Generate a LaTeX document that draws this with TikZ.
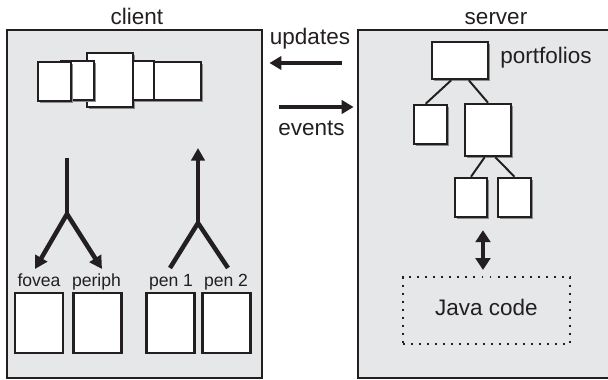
\documentclass[tikz,border=0pt]{standalone}
\usepackage{fontspec}
\setmainfont{Liberation Sans}
\usepackage{tikz}
\usetikzlibrary{arrows.meta, shadows}
\definecolor{inkdark}{HTML}{231F20}
\definecolor{panelgray}{HTML}{E6E7E8}
\definecolor{shadowgray}{HTML}{8C8C8E}

\begin{document}
\begin{tikzpicture}[x=0.025cm, y=-0.025cm, font=\fontsize{16}{19}\selectfont, text=inkdark,
  frame/.style={draw=inkdark, line width=2pt, fill=panelgray, inner sep=0pt},
  pane/.style={draw=inkdark, line width=1.8pt, fill=white, inner sep=0pt},
  cast/.style={drop shadow={shadow xshift=1.4pt, shadow yshift=-1.4pt, opacity=1, fill=shadowgray}},
  small/.style={font=\fontsize{12.5}{15}\selectfont, anchor=base},
  fork/.style={draw=inkdark, line width=3.2pt},
  flow/.style={draw=inkdark, line width=3pt, -{Triangle[length=8.5pt, width=9.5pt]}},
  link/.style={draw=inkdark, line width=1.4pt}]
  \useasboundingbox (0,0) rectangle (608,380);
  \clip (0,0) rectangle (608,380);

  % the two panels, server runs off the right edge
  \node[frame, minimum width=6.375cm, minimum height=8.7cm] (client) at (134.5,204) {};
  \node[frame, minimum width=6.55cm, minimum height=8.7cm] (server) at (489,204) {};
  \node[anchor=base] (clientlbl) at (137,25) {client};
  \node[anchor=base] (serverlbl) at (496,25) {server};

  % updates and events between the panels
  \node[anchor=base] (updlbl) at (310,45) {updates};
  \node[anchor=base] (evtlbl) at (311.5,136) {events};
  \draw[flow, shorten <=10.6pt, shorten >=4.3pt] (server.west |- 0,63) -- (client.east |- 0,63);
  \draw[flow, shorten <=11.3pt, shorten >=2.1pt] (client.east |- 0,107) -- (server.west |- 0,107);

  % client: overlapping views
  \node[pane, cast, minimum width=1.15cm, minimum height=1.35cm] (vmain) at (110,80) {};
  \node[pane, cast, minimum width=0.825cm, minimum height=0.975cm] (vleftb) at (77.5,80.5) {};
  \node[pane, cast, minimum width=0.825cm, minimum height=0.975cm] (vlefta) at (54.5,81.5) {};
  \node[pane, cast, minimum width=0.525cm, minimum height=0.975cm] (vrightb) at (143.5,80.5) {};
  \node[pane, cast, minimum width=1.175cm, minimum height=0.95cm] (vrighta) at (177.5,81) {};

  % client: output fork (fovea / periph)
  \coordinate (fovstem) at (67,158);
  \coordinate (fovsplit) at (67,214);
  \coordinate (fovtip) at (35,269);
  \coordinate (pertip) at (102,269);
  \draw[fork] (fovstem) -- (fovsplit);
  \draw[fork, {Triangle[length=9pt, width=9.5pt]}-{Triangle[length=9pt, width=9.5pt]}] (fovtip) -- (fovsplit) -- (pertip);

  % client: input fork (pen 1 / pen 2)
  \coordinate (pentip) at (198,148);
  \coordinate (pensplit) at (198,223);
  \coordinate (penfoot1) at (170,268);
  \coordinate (penfoot2) at (228,268);
  \draw[fork] (penfoot1) -- (pensplit) -- (penfoot2);
  \draw[fork, -{Triangle[length=9pt, width=9.5pt]}] (pensplit) -- (pentip);

  % client: device buffers
  \node[small] (fovlbl) at (39,287) {fovea};
  \node[small] (perlbl) at (96.5,287) {periph};
  \node[small] (pen1lbl) at (171,287) {pen 1};
  \node[small] (pen2lbl) at (226,287) {pen 2};
  \node[pane, minimum width=1.2cm, minimum height=1.5cm] (fovbuf) at (39,323) {};
  \node[pane, minimum width=1.2cm, minimum height=1.5cm] (perbuf) at (97.5,323) {};
  \node[pane, minimum width=1.2cm, minimum height=1.5cm] (pen1buf) at (170.5,323) {};
  \node[pane, minimum width=1.2cm, minimum height=1.5cm] (pen2buf) at (226.5,323) {};

  % server: portfolio tree
  \node[pane, cast, minimum width=1.4cm, minimum height=0.925cm] (root) at (460,60.5) {};
  \node[anchor=base] (portlbl) at (546,64) {portfolios};
  \node[pane, cast, minimum width=0.825cm, minimum height=0.975cm] (lchild) at (430.5,124.5) {};
  \node[pane, cast, minimum width=1.15cm, minimum height=1.3cm] (rchild) at (488,130) {};
  \node[pane, cast, minimum width=0.8cm, minimum height=0.975cm] (gc1) at (471,197.5) {};
  \node[pane, cast, minimum width=0.825cm, minimum height=0.975cm] (gc2) at (514.5,197.5) {};
  \draw[link] (root.246) -- (lchild.103);
  \draw[link] (root.294) -- (rchild.north);
  \draw[link] (rchild.263) -- (gc1.north);
  \draw[link] (rchild.285) -- (gc2.north);

  % server: application code
  \node[draw=inkdark, line width=1.4pt, dash pattern=on 1.4pt off 4.3pt, text depth=5pt,
        minimum width=4.175cm, minimum height=1.675cm] (java) at (486.5,310.5) {Java code};
  \draw[draw=inkdark, line width=2.5pt, shorten <=8.5pt, shorten >=4.3pt,
        {Triangle[length=8.5pt, width=10.5pt]}-{Triangle[length=8.5pt, width=10.5pt]}]
        ([xshift=-2.5pt]java.north |- gc1.south) -- ([xshift=-2.5pt]java.north);
\end{tikzpicture}
\end{document}
